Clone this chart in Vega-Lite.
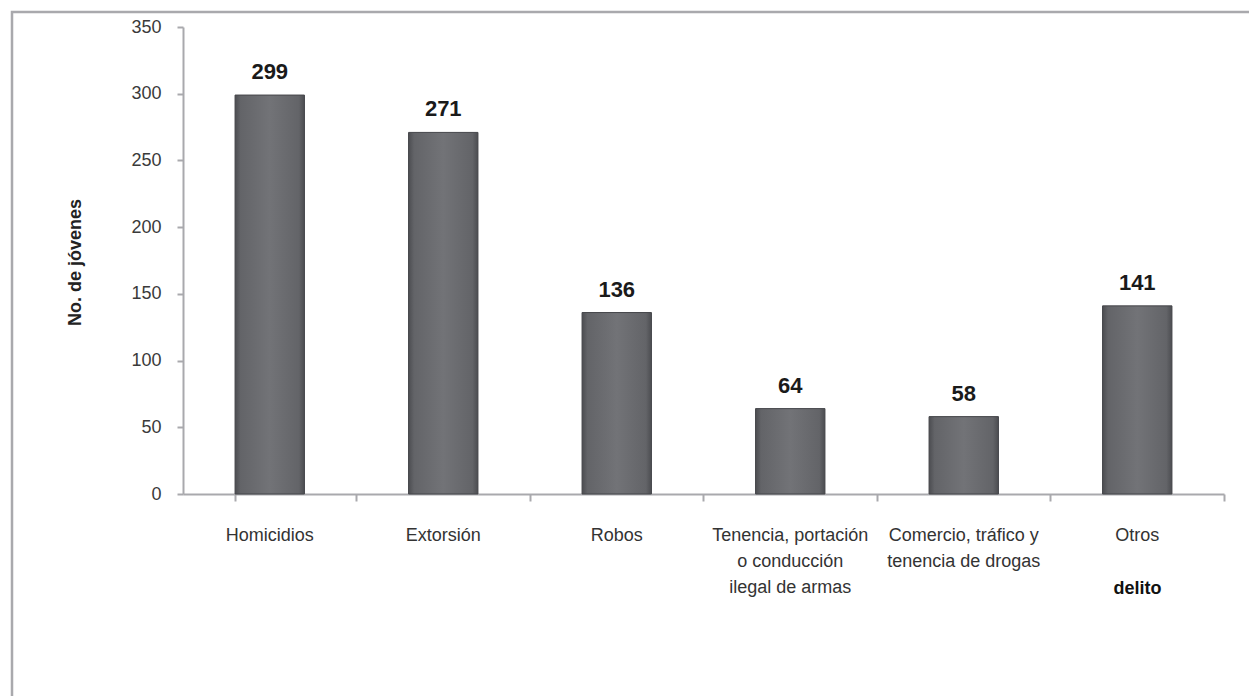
{
  "$schema": "https://vega.github.io/schema/vega-lite/v6.json",
  "autosize": {"type": "none"},
  "padding": {"left": 12, "top": 12, "right": -4, "bottom": -4},
  "width": 1241,
  "height": 688,
  "background": "white",
  "config": {
    "view": {"stroke": "#a9a9ad", "strokeWidth": 2.5},
    "font": "Liberation Sans"
  },
  "data": {
    "values": [
      {"delito": "Homicidios", "jovenes": 299},
      {"delito": "Extorsión", "jovenes": 271},
      {"delito": "Robos", "jovenes": 136},
      {"delito": "Tenencia, portación o conducción ilegal de armas", "jovenes": 64},
      {"delito": "Comercio, tráfico y tenencia de drogas", "jovenes": 58},
      {"delito": "Otros", "jovenes": 141}
    ]
  },
  "encoding": {
    "y": {
      "field": "jovenes",
      "type": "quantitative",
      "scale": {"domain": [0, 350], "range": [482, 15], "nice": false, "zero": true},
      "axis": {
        "title": "No. de jóvenes",
        "values": [0, 50, 100, 150, 200, 250, 300, 350],
        "offset": -171,
        "grid": false,
        "domainColor": "#a9a9ad",
        "domainWidth": 2,
        "tickColor": "#a9a9ad",
        "tickWidth": 2,
        "tickSize": 6,
        "labelPadding": 16,
        "labelFont": "Liberation Sans",
        "labelFontSize": 18,
        "labelColor": "#3a3a3a",
        "titleFont": "Liberation Sans",
        "titleFontSize": 18,
        "titleFontWeight": "bold",
        "titleColor": "#222222",
        "titleX": -108,
        "titleY": 250,
        "titleAngle": -90,
        "titleAlign": "center",
        "titleBaseline": "middle"
      }
    }
  },
  "layer": [
    {
      "mark": {
        "type": "bar",
        "stroke": "#45464a",
        "strokeWidth": 1,
        "color": {
          "gradient": "linear",
          "x1": 0, "x2": 1, "y1": 0, "y2": 0,
          "stops": [
            {"offset": 0, "color": "#4c4d51"},
            {"offset": 0.08, "color": "#636468"},
            {"offset": 0.5, "color": "#727377"},
            {"offset": 0.92, "color": "#636468"},
            {"offset": 1, "color": "#4c4d51"}
          ]
        }
      },
      "encoding": {
        "x": {
          "field": "delito",
          "type": "nominal",
          "sort": null,
          "scale": {"range": [171, 1212], "paddingInner": 0.6, "paddingOuter": 0.3},
          "axis": {
            "title": "delito",
            "offset": -206,
            "labelAngle": 0,
            "ticks": false,
            "domainColor": "#a9a9ad",
            "domainWidth": 2,
            "labelPadding": 41,
            "labelBaseline": "middle",
            "labelFont": "Liberation Sans",
            "labelFontSize": 18,
            "labelColor": "#333333",
            "labelLineHeight": 26,
            "labelLimit": 300,
            "labelExpr": "datum.value == 'Tenencia, portación o conducción ilegal de armas' ? ['Tenencia, portación', 'o conducción', 'ilegal de armas'] : datum.value == 'Comercio, tráfico y tenencia de drogas' ? ['Comercio, tráfico y', 'tenencia de drogas'] : datum.value",
            "titleFont": "Liberation Sans",
            "titleFontSize": 18,
            "titleFontWeight": "bold",
            "titleColor": "#111111",
            "titleX": 1125,
            "titleY": 94,
            "titleAlign": "center",
            "titleBaseline": "middle"
          }
        }
      }
    },
    {
      "mark": {
        "type": "text",
        "dy": -16,
        "baseline": "alphabetic",
        "font": "Liberation Sans",
        "fontSize": 22,
        "fontWeight": "bold",
        "color": "#1a1a1a"
      },
      "encoding": {
        "x": {
          "field": "delito",
          "type": "nominal",
          "sort": null,
          "axis": {
            "title": null,
            "orient": "top",
            "offset": -482,
            "labels": false,
            "domain": false,
            "ticks": true,
            "tickExtra": true,
            "bandPosition": 1.75,
            "tickColor": "#a9a9ad",
            "tickWidth": 2,
            "tickSize": -7
          }
        },
        "text": {"field": "jovenes", "type": "quantitative"}
      }
    }
  ],
  "resolve": {"axis": {"x": "independent"}}
}
